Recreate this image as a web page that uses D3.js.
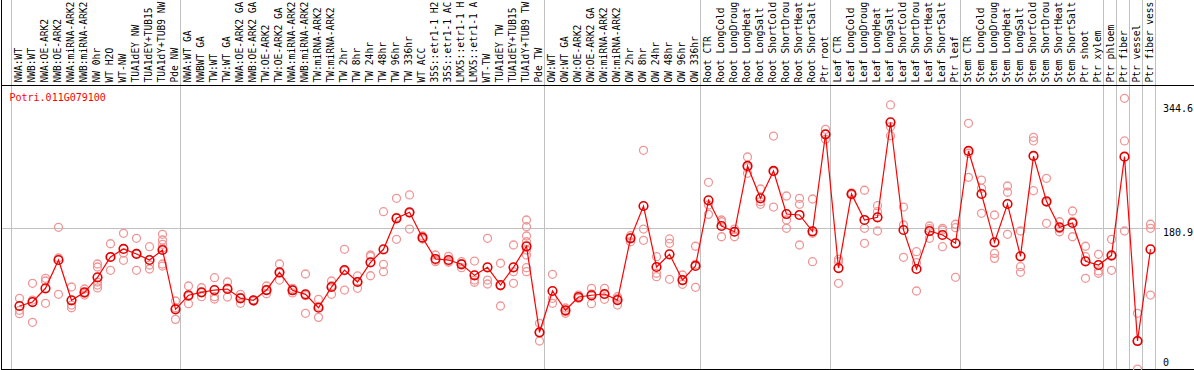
<!DOCTYPE html>
<html>
<head>
<meta charset="utf-8">
<script src="https://cdn.jsdelivr.net/npm/d3@7"></script>
<style>
	body { margin: 0; background: #fff; }
	text { font-family: "DejaVu Sans Mono", monospace; font-size: 10px; }
	text.samplelabel { font-size: 9.6px; }
</style>
</head>
<body>
<script>
"use strict";

var geneName = "Potri.011G079100";

var labels = ["NWA:WT", "NWB:WT", "NWA:OE-ARK2", "NWB:OE-ARK2", "NWA:miRNA-ARK2", "NWB:miRNA-ARK2",
	"NW 0hr", "WT H2O", "WT-NW", "TUA1dEY NW", "TUA1dEY+TUB15", "TUA1dY+TUB9 NW", "Pde NW",
	"NWA:WT GA", "NWBWT GA", "TW:WT", "TW:WT GA", "NWA:OE-ARK2 GA", "NWB:OE-ARK2 GA", "TW:OE-ARK2",
	"TW:OE-ARK2 GA", "NWA:miRNA-ARK2", "NWB:miRNA-ARK2", "TW:miRNA-ARK2", "TW:miRNA-ARK2",
	"TW 2hr", "TW 8hr", "TW 24hr", "TW 48hr", "TW 96hr", "TW 336hr", "WT ACC",
	"35S::etr1-1 H2", "35S::etr1-1 AC", "LMX5::etr1-1 H", "LMX5::etr1-1 A", "WT-TW", "TUA1dEY TW",
	"TUA1dEY+TUB15", "TUA1dY+TUB9 TW", "Pde TW",
	"OW:WT", "OW:WT GA", "OW:OE-ARK2", "OW:OE-ARK2 GA", "OW:miRNA-ARK2", "OW:miRNA-ARK2",
	"OW 2hr", "OW 8hr", "OW 24hr", "OW 48hr", "OW 96hr", "OW 336hr",
	"Root CTR", "Root LongCold", "Root LongDroug", "Root LongHeat", "Root LongSalt",
	"Root ShortCold", "Root ShortDrou", "Root ShortHeat", "Root ShortSalt", "Ptr root",
	"Leaf CTR", "Leaf LongCold", "Leaf LongDroug", "Leaf LongHeat", "Leaf LongSalt",
	"Leaf ShortCold", "Leaf ShortDrou", "Leaf ShortHeat", "Leaf ShortSalt", "Ptr leaf",
	"Stem CTR", "Stem LongCold", "Stem LongDroug", "Stem LongHeat", "Stem LongSalt",
	"Stem ShortCold", "Stem ShortDrou", "Stem ShortHeat", "Stem ShortSalt", "Ptr shoot", "Ptr xylem",
	"Ptr phloem", "Ptr fiber", "Ptr vessel", "Ptr fiber vess"];

// index of the first sample of each group (last entry = end)
var groupBreaks = [0, 13, 41, 53, 63, 73, 84, 85, 86, 87, 88];

var means = [83.1, 88.1, 105.4, 141.0, 90.3, 100.3, 119.2, 144.8, 154.9, 148.6, 141.0, 153.6, 78.9,
	96.6, 100.3, 103.2, 104.5, 92.8, 90.3, 103.2, 125.5, 102.9, 97.8, 80.9, 107.0, 128.4, 113.3,
	138.1, 154.5, 193.5, 201.1, 169.1, 142.3, 141.0, 135.6, 121.7, 131.8, 109.5, 131.8, 158.3, 50.0,
	102.0, 77.7, 94.4, 96.6, 98.2, 90.6, 168.3, 209.0, 132.2, 148.2, 115.8, 133.5,
	216.2, 183.8, 176.6, 259.4, 218.7, 253.1, 198.9, 197.7, 177.1, 299.3,
	130.9, 224.1, 191.4, 194.8, 314.4, 178.8, 129.7, 177.5, 172.5, 162.0,
	278.3, 224.1, 163.3, 211.5, 145.7, 272.0, 214.9, 182.2, 187.6, 139.4, 134.7,
	146.9, 271.1, 39.0, 154.5];

var replicates = [
	[92.8, 77.7, 73.4], [111.7, 90.6, 62.6], [118.0, 114.6, 86.5], [182.2, 143.5, 97.8],
	[107.0, 84.3, 80.9], [104.5, 99.1, 96.9], [136.0, 132.2, 113.3, 109.5, 105.8],
	[161.5, 144.8, 128.0], [174.6, 149.8, 140.6], [168.3, 149.2, 128.0], [157.8, 134.7, 129.7],
	[173.4, 166.2, 160.8, 155.7, 136.0, 133.4], [89.4, 81.0, 66.3],
	[108.3, 95.4, 86.0], [106.1, 100.1, 94.8], [118.7, 94.8, 91.9], [113.3, 105.8, 94.4],
	[97.8, 94.0, 86.5], [90.6, 90.3, 89.4], [108.3, 102.9, 98.6], [136.0, 124.6, 115.8],
	[105.4, 103.7, 99.5], [123.4, 96.2, 73.9], [91.5, 82.6, 68.8], [114.6, 108.7, 97.8],
	[154.5, 127.5, 103.2], [120.9, 113.7, 105.4], [147.3, 145.7, 121.2], [201.8, 135.6, 126.3],
	[218.7, 194.8, 167.1], [222.9, 200.2, 180.0], [171.2, 169.1, 167.4], [147.3, 140.6, 138.9],
	[145.7, 139.4, 138.1], [138.9, 136.5, 131.3], [139.7, 115.8, 113.0], [168.3, 115.8, 110.8],
	[136.9, 108.6, 83.1], [159.9, 126.3, 111.7],
	[191.4, 182.9, 171.2, 164.0, 153.6, 147.3, 131.3, 126.3], [61.3, 49.5, 39.0],
	[123.0, 92.8, 86.5], [80.6, 75.9, 73.9], [96.9, 93.5, 92.8], [105.4, 98.2, 86.0],
	[105.4, 97.8, 91.5], [94.8, 92.8, 84.3], [171.6, 169.1, 164.0], [279.1, 180.0, 165.8],
	[145.2, 124.3, 120.0], [167.5, 162.0, 116.7], [122.1, 115.0, 110.4], [158.3, 135.5, 106.6],
	[238.8, 210.3, 198.5], [191.4, 189.2, 170.3], [180.0, 176.6, 170.3], [270.7, 257.2, 250.2],
	[230.4, 214.4, 211.1], [297.1, 252.2, 207.7], [221.6, 191.4, 180.9], [218.7, 211.1, 159.9],
	[217.8, 174.6, 138.9], [305.6, 299.3, 293.0],
	[141.9, 138.9, 111.7], [225.4, 224.1, 222.9], [228.8, 180.9, 162.0], [209.4, 201.8, 177.5],
	[336.2, 308.9, 297.5], [207.7, 185.1, 144.4], [151.5, 137.6, 102.0], [183.8, 180.4, 168.3],
	[180.9, 178.8, 157.8], [186.0, 181.7, 119.2],
	[313.1, 275.4, 245.1], [241.7, 231.3, 199.8], [197.7, 149.4, 143.1], [234.2, 226.3, 173.4],
	[177.5, 132.6, 125.5], [295.5, 290.9, 228.3], [243.9, 213.7, 187.2], [189.2, 180.4, 176.6],
	[202.7, 189.7, 170.3], [158.3, 145.2, 118.0], [148.2, 127.2, 124.3],
	[167.1, 145.7, 128.0], [344.6, 290.9, 177.5], [73.9, 39.4, 3.7], [186.0, 180.9, 96.9]];

var yTicks = [344.6, 180.9, 0];

var width = 1194, height = 370;
var plotTop = 85, plotBottom = 369;

var svg = d3.select("body").append("svg")
	.attr("width", width)
	.attr("height", height);

var x = d3.scaleBand()
	.domain(d3.range(labels.length))
	.range([11, 11 + labels.length * 13]);

var y = d3.scaleLinear()
	.domain([0, 344.6])
	.range([372, 98.3]);

// group separators
svg.selectAll(".sep")
	.data(groupBreaks)
	.enter().append("line")
	.attr("x1", function (d) { return x.step() * d + 11.5; })
	.attr("x2", function (d) { return x.step() * d + 11.5; })
	.attr("y1", 0)
	.attr("y2", plotBottom)
	.style("stroke", "#c0c0c0");

// gridline at the middle tick
svg.append("line")
	.attr("x1", 1)
	.attr("x2", 1160)
	.attr("y1", Math.round(y(180.9)) + 0.5)
	.attr("y2", Math.round(y(180.9)) + 0.5)
	.style("stroke", "#c0c0c0");

// frame
svg.append("line").attr("x1", 1.5).attr("x2", 1.5).attr("y1", 0).attr("y2", plotBottom + 0.5)
	.style("stroke", "#000");
svg.append("line").attr("x1", 1).attr("x2", width).attr("y1", plotTop + 0.5).attr("y2", plotTop + 0.5)
	.style("stroke", "#000");
svg.append("line").attr("x1", 1).attr("x2", width).attr("y1", plotBottom + 0.5).attr("y2", plotBottom + 0.5)
	.style("stroke", "#000");

// sample labels
svg.selectAll(".samplelabel")
	.data(labels)
	.enter().append("text")
	.attr("class", "samplelabel")
	.attr("transform", function (d, i) { return "translate(" + (x(i) + 11) + ",82.5) rotate(-90)"; })
	.text(function (d) { return d; });

// y labels on the right
svg.selectAll(".ylabel")
	.data(yTicks)
	.enter().append("text")
	.attr("x", 1163)
	.attr("y", function (d) { return Math.max(111.5, Math.min(365.5, y(d) + 7.2)); })
	.text(function (d) { return d; });

svg.append("text")
	.attr("x", 9.5)
	.attr("y", 101)
	.style("fill", "#f00")
	.text(geneName);

function cx(i) { return x(i) + 8.5; }

// replicates
var repPoints = [];
replicates.forEach(function (reps, i) {
	reps.forEach(function (v) { repPoints.push({ i: i, v: v }); });
});

svg.selectAll(".rep")
	.data(repPoints)
	.enter().append("circle")
	.attr("cx", function (d) { return cx(d.i); })
	.attr("cy", function (d) { return y(d.v); })
	.attr("r", 4)
	.style("fill", "none")
	.style("stroke", "#f09696")
	.style("stroke-width", 1.3);

// mean line
var line = d3.line()
	.x(function (d, i) { return cx(i); })
	.y(function (d) { return y(d); });

svg.append("path")
	.datum(means)
	.attr("d", line)
	.style("fill", "none")
	.style("stroke", "#f00")
	.style("stroke-width", 1.2);

svg.selectAll(".mean")
	.data(means)
	.enter().append("circle")
	.attr("cx", function (d, i) { return cx(i); })
	.attr("cy", function (d) { return y(d); })
	.attr("r", 4.3)
	.style("fill", "none")
	.style("stroke", "#e00000")
	.style("stroke-width", 1.6);
</script>
</body>
</html>
